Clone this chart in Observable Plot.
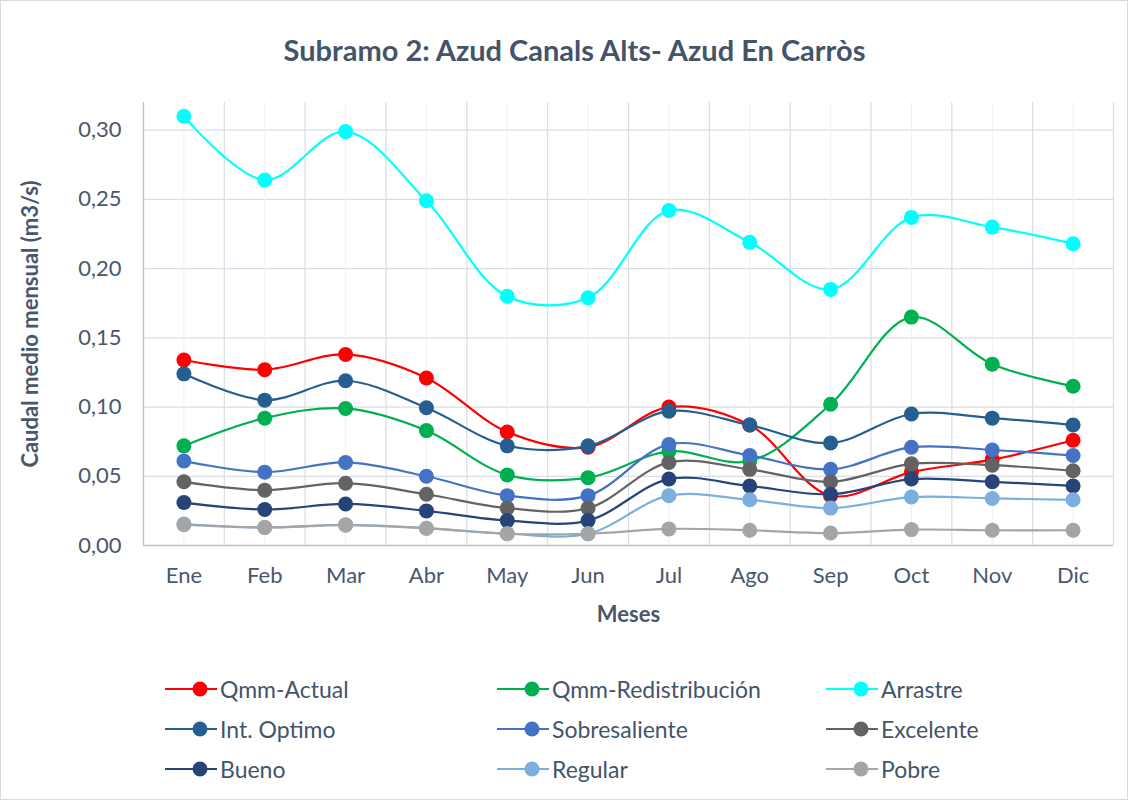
<!DOCTYPE html>
<html>
<head>
<meta charset="utf-8">
<script src="https://cdn.jsdelivr.net/npm/d3@7"></script>
<script src="https://cdn.jsdelivr.net/npm/@observablehq/plot@0.6"></script>
<style>
  body { margin: 0; background: #fff; font-family: Lato, "Open Sans", sans-serif; }
  #frame { position: absolute; left: 0; top: 0; width: 1126px; height: 798px; border: 1px solid #d9d9d9; }
  #title { position: absolute; left: 7px; top: 32px; width: 1135px; height: 36px; line-height: 36px;
           text-align: center; font-weight: bold; font-size: 29px; color: #44546A; }
  #chart { position: absolute; left: 0; top: 0; }
  #legend { position: absolute; left: 0; top: 0; }
  .item { position: absolute; height: 30px; display: flex; align-items: center; font-size: 23px; color: #44546A; white-space: nowrap; }
  .item svg { margin-right: 3px; }
</style>
</head>
<body>
<div id="frame"></div>
<div id="title">Subramo 2: Azud Canals Alts- Azud En Carròs</div>
<div id="chart"></div>
<div id="legend"></div>
<script>
const months = ["Ene","Feb","Mar","Abr","May","Jun","Jul","Ago","Sep","Oct","Nov","Dic"];
const yTicks = [0, 0.05, 0.10, 0.15, 0.20, 0.25, 0.30];

const seriesNames = ["Qmm-Actual","Qmm-Redistribución","Arrastre","Int. Optimo","Sobresaliente","Excelente","Bueno","Regular","Pobre"];
const seriesColors = ["#FF0000","#00B050","#00FFFF","#255E91","#4472C4","#636363","#264478","#7CAFDD","#A5A5A5"];

const qmmActual       = [0.134, 0.127, 0.138, 0.121, 0.082, 0.071, 0.100, 0.087, 0.036, 0.053, 0.062, 0.076];
const qmmRedist       = [0.072, 0.092, 0.099, 0.083, 0.051, 0.049, 0.068, 0.061, 0.102, 0.165, 0.131, 0.115];
const arrastre        = [0.310, 0.264, 0.299, 0.249, 0.180, 0.179, 0.242, 0.219, 0.185, 0.237, 0.230, 0.218];
const intOptimo       = [0.124, 0.105, 0.119, 0.0995, 0.072, 0.072, 0.097, 0.087, 0.074, 0.095, 0.092, 0.087];
const sobresaliente   = [0.061, 0.053, 0.060, 0.050, 0.036, 0.036, 0.073, 0.065, 0.055, 0.071, 0.069, 0.065];
const excelente       = [0.046, 0.040, 0.045, 0.037, 0.027, 0.027, 0.060, 0.055, 0.046, 0.059, 0.058, 0.054];
const bueno           = [0.031, 0.026, 0.030, 0.025, 0.018, 0.018, 0.048, 0.043, 0.037, 0.048, 0.046, 0.043];
const regular         = [0.0155, 0.013, 0.015, 0.0125, 0.0085, 0.0085, 0.036, 0.033, 0.027, 0.035, 0.034, 0.033];
const pobre           = [0.015, 0.013, 0.0147, 0.0125, 0.0085, 0.0085, 0.012, 0.011, 0.009, 0.0115, 0.011, 0.011];

const seriesValues = [qmmActual, qmmRedist, arrastre, intOptimo, sobresaliente, excelente, bueno, regular, pobre];

const data = [];
seriesNames.forEach((s, k) => seriesValues[k].forEach((v, i) => data.push({series: s, i, month: months[i], v})));

const fmt = d => d3.format(".2f")(d).replace(".", ",");
const idx = d3.range(months.length);
const bounds = d3.range(months.length + 1).map(i => i - 0.5);
const txt = "#4a576b";

const chart = Plot.plot({
  width: 1135,
  height: 640,
  marginTop: 102,
  marginBottom: 95,
  marginLeft: 143,
  marginRight: 22,
  style: { fontFamily: "Lato, 'Open Sans', sans-serif", fontSize: "22px", color: txt, background: "transparent" },
  x: { type: "linear", domain: [-0.5, months.length - 0.5] },
  y: { domain: [0, 0.32] },
  color: { domain: seriesNames, range: seriesColors },
  marks: [
    Plot.gridY(yTicks, { stroke: "#d9dde6", strokeOpacity: 1, strokeWidth: 1.2 }),
    Plot.ruleX(idx, { stroke: "#eef0f4", strokeWidth: 1 }),
    Plot.ruleX(bounds, { stroke: "#d9dde6", strokeWidth: 1.2 }),
    Plot.ruleX([-0.5], { stroke: "#b8c0ce", strokeWidth: 1.2 }),
    Plot.ruleY([0], { stroke: "#b8c0ce", strokeWidth: 1.5 }),
    Plot.axisX(idx, { tickSize: 0, tickPadding: 22, tickFormat: i => months[i], fontSize: 22, fill: txt, label: null }),
    Plot.axisY(yTicks, { tickSize: 0, tickPadding: 22, tickFormat: fmt, fontSize: 22, fill: txt, label: null }),
    Plot.text(["Meses"], { frameAnchor: "bottom", dy: 76, fontWeight: "bold", fontSize: 22, fill: txt }),
    Plot.text(["Caudal medio mensual (m3/s)"], { frameAnchor: "left", dx: -113, rotate: -90, textAnchor: "middle", fontWeight: "bold", fontSize: 22, fill: txt }),
    Plot.line(data, { x: "i", y: "v", z: "series", stroke: "series", strokeWidth: 2.2, curve: "catmull-rom" }),
    Plot.dot(data, { x: "i", y: "v", fill: "series", r: 7.5 })
  ]
});
document.getElementById("chart").appendChild(chart);

// Legend
const legend = document.getElementById("legend");
const colX = [165, 497, 826];
const rowY = [689, 729, 769];
seriesNames.forEach((s, k) => {
  const div = document.createElement("div");
  div.className = "item";
  div.style.left = colX[k % 3] + "px";
  div.style.top = (rowY[Math.floor(k / 3)] - 15) + "px";
  div.innerHTML = `<svg width="52" height="20"><line x1="0" y1="10" x2="52" y2="10" stroke="${seriesColors[k]}" stroke-width="2.2"/><circle cx="35" cy="10" r="7.5" fill="${seriesColors[k]}"/></svg><span>${s}</span>`;
  legend.appendChild(div);
});
</script>
</body>
</html>
